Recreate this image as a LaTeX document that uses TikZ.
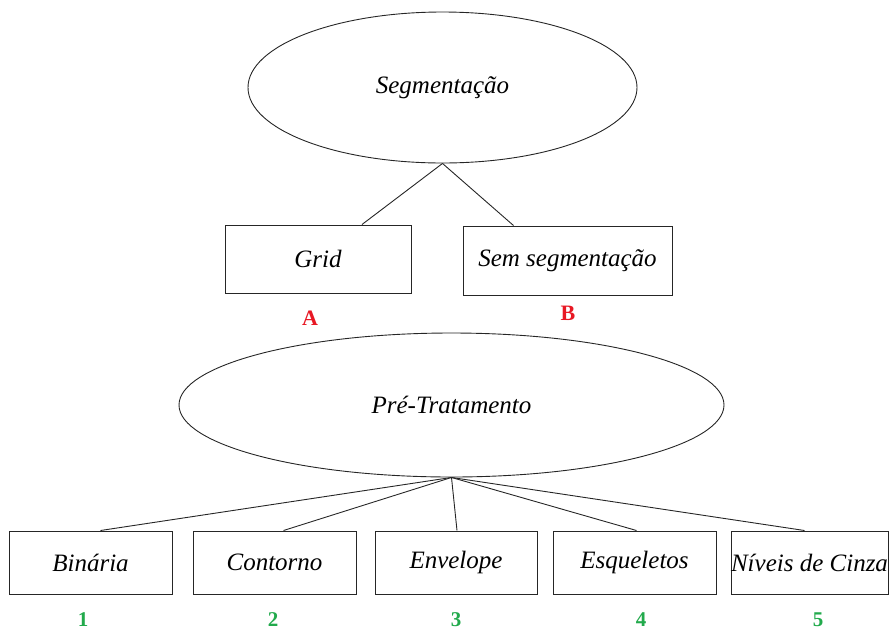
\documentclass[tikz,border=0pt]{standalone}
\usepackage{fontspec}
\setmainfont{Liberation Serif}
\usetikzlibrary{shapes.geometric}
\definecolor{labred}{RGB}{232,24,36}
\definecolor{labgreen}{RGB}{34,170,76}

\begin{document}
\begin{tikzpicture}[x=1pt,y=-1pt,
    elip/.style={draw=black!85,ellipse,line width=0.9pt,inner sep=0pt,font=\fontsize{25}{29}\selectfont\itshape},
    caixa/.style={draw=black!85,rectangle,line width=1pt,inner sep=0pt,minimum height=63pt,font=\fontsize{25}{29}\selectfont\itshape},
    ramo/.style={draw=black!85,line width=0.9pt},
    letra/.style={text=labred,font=\fontsize{22}{26}\selectfont\bfseries},
    numero/.style={text=labgreen,font=\fontsize{21}{25}\selectfont\bfseries}]
  \useasboundingbox (0,0) rectangle (894,630);
  % segmentacao
  \node[elip,minimum width=389pt,minimum height=151pt] (seg) at (442.5,87.5) {Segmenta\c{c}\~ao};
  \node[caixa,minimum width=186pt,minimum height=68pt] (grid) at (318,259) {Grid};
  \node[caixa,minimum width=209pt,minimum height=69pt] (sem) at (567.5,260.5) {Sem segmenta\c{c}\~ao};
  \node[letra] (la) at (310,318) {A};
  \node[letra] (lb) at (568,313) {B};
  \draw[ramo] (seg.south) -- ([xshift=44pt]grid.north);
  \draw[ramo] (seg.south) -- ([xshift=-54pt]sem.north);
  % pre-tratamento
  \node[elip,minimum width=545pt,minimum height=144pt] (pre) at (451.5,405) {Pr\'e-Tratamento};
  \node[caixa,minimum width=163pt] (bin) at (90.5,562.5) {Bin\'aria};
  \node[caixa,minimum width=163pt] (cont) at (274.5,562.5) {Contorno};
  \node[caixa,minimum width=162pt] (env) at (456,562.5) {Envelope};
  \node[caixa,minimum width=163pt] (esq) at (634.5,562.5) {Esqueletos};
  \node[caixa,minimum width=157pt] (niv) at (809.5,562.5) {N\'iveis de Cinza};
  \node[numero] (n1) at (83,620) {1};
  \node[numero] (n2) at (273,620) {2};
  \node[numero] (n3) at (456,620) {3};
  \node[numero] (n4) at (641,620) {4};
  \node[numero] (n5) at (818,620) {5};
  \draw[ramo] (pre.south) -- ([xshift=10pt]bin.north);
  \draw[ramo] (pre.south) -- ([xshift=9pt]cont.north);
  \draw[ramo] (pre.south) -- ([xshift=1pt]env.north);
  \draw[ramo] (pre.south) -- ([xshift=2pt]esq.north);
  \draw[ramo] (pre.south) -- ([xshift=-5pt]niv.north);
\end{tikzpicture}
\end{document}
